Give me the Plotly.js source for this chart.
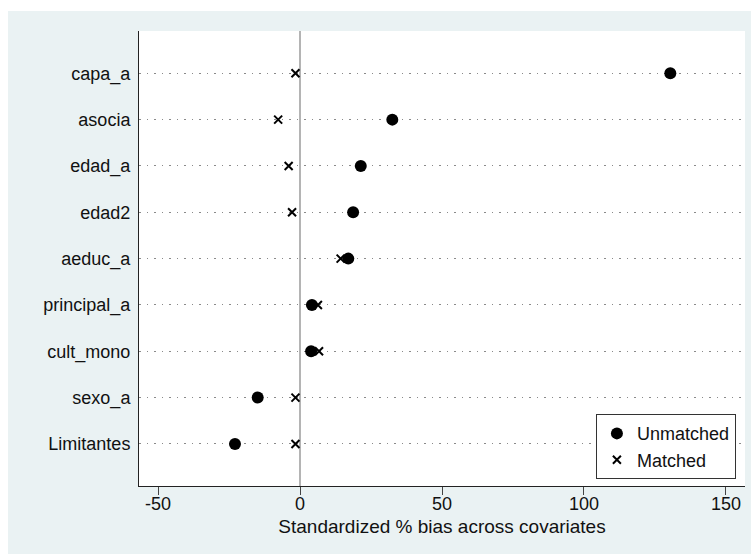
<!DOCTYPE html>
<html>
<head>
<meta charset="utf-8">
<script src="https://cdn.plot.ly/plotly-3.0.1.min.js"></script>
<style>
  html, body { margin: 0; padding: 0; background: #ffffff; }
  #chart { position: absolute; left: 8px; top: 11px; width: 743px; height: 543px; }
</style>
</head>
<body>
<div id="chart"></div>
<script>
// Covariates (top to bottom)
const covariates = ["capa_a", "asocia", "edad_a", "edad2", "aeduc_a", "principal_a", "cult_mono", "sexo_a", "Limitantes"];
// Standardized % bias, unmatched sample
const unmatched = [130.4, 32.5, 21.4, 18.7, 17.0, 4.2, 3.9, -14.9, -22.9];
// Standardized % bias, matched sample
const matched = [-1.6, -7.7, -4.0, -2.8, 14.3, 6.3, 6.7, -1.6, -1.6];
const xTicks = [-50, 0, 50, 100, 150];

const rowIdx = covariates.map((_, i) => i);

const fam = "Liberation Sans, Arial, sans-serif";
const txt = "#111111";

const traces = [
  {
    type: "scatter", mode: "markers", name: "Unmatched",
    x: unmatched, y: rowIdx, text: covariates,
    marker: { symbol: "circle", size: 12, color: "#000000" },
    hoverinfo: "x+text"
  },
  {
    type: "scatter", mode: "markers", name: "Matched",
    x: matched, y: rowIdx, text: covariates,
    marker: { symbol: "x-thin-open", size: 8, color: "#000000", line: { width: 2, color: "#000000" } },
    hoverinfo: "x+text"
  }
];

const layout = {
  width: 743, height: 543,
  margin: { l: 131, r: 6, t: 20, b: 68, pad: 0 },
  paper_bgcolor: "#eaf2f3",
  plot_bgcolor: "#ffffff",
  font: { family: fam, size: 18, color: txt },
  showlegend: true,
  legend: {
    x: 0.985, xanchor: "right", y: 0.015, yanchor: "bottom",
    bgcolor: "#ffffff", bordercolor: "#333333", borderwidth: 1,
    font: { family: fam, size: 18, color: txt },
    tracegroupgap: 0, itemsizing: "trace", itemwidth: 30,
    tracegroupgap: 0
  },
  xaxis: {
    range: [-56.7, 156.7],
    tickvals: xTicks,
    ticktext: xTicks.map(String),
    ticks: "outside", ticklen: 8, tickwidth: 1, tickcolor: "#444444",
    ticklabelstandoff: -7,
    showgrid: false,
    zeroline: true, zerolinecolor: "#b4b4b4", zerolinewidth: 2,
    showline: true, linecolor: "#222222", linewidth: 1,
    tickfont: { family: fam, size: 18, color: txt },
    title: { text: "Standardized % bias across covariates", standoff: 7,
             font: { family: fam, size: 19, color: txt } },
    fixedrange: true
  },
  yaxis: {
    range: [8.908, -0.913],
    tickvals: rowIdx,
    ticktext: covariates,
    ticks: "outside", ticklen: 4, tickcolor: "rgba(0,0,0,0)",
    showgrid: true, gridcolor: "#8a8a8a", gridwidth: 1, griddash: "1.5px,6px",
    zeroline: false,
    showline: true, linecolor: "#222222", linewidth: 1,
    tickfont: { family: fam, size: 18, color: txt },
    fixedrange: true
  }
};

Plotly.newPlot("chart", traces, layout, { displayModeBar: false, staticPlot: true });
</script>
</body>
</html>
